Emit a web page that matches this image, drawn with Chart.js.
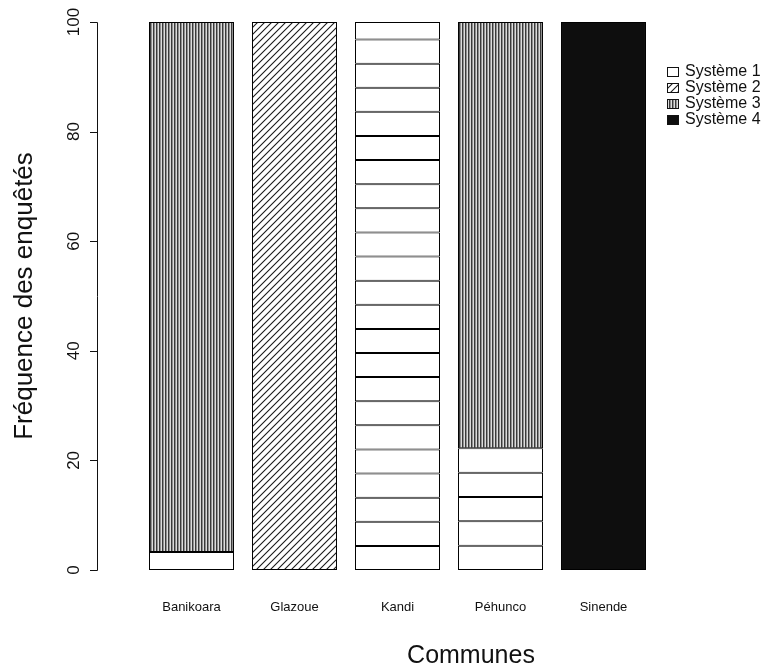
<!DOCTYPE html>
<html>
<head>
<meta charset="utf-8">
<script src="https://cdn.jsdelivr.net/npm/chart.js@4.4.0/dist/chart.umd.min.js"></script>
<style>
  body { margin: 0; background: #fff; }
</style>
</head>
<body>
<canvas id="myChart" width="768" height="671"></canvas>
<script>
// communes sur l'axe x
var communes = ['Banikoara', 'Glazoue', 'Kandi', 'Péhunco', 'Sinende'];
var systemes = ['Système 1', 'Système 2', 'Système 3', 'Système 4'];

// Système 1 : segments empilés (bas -> haut) pour chaque commune
var systeme1 = [
  [3.3],
  [],
  [4.4, 4.4, 4.4, 4.4, 4.4, 4.4, 4.4, 4.4, 4.4, 4.4, 4.4,
   4.4, 4.4, 4.4, 4.4, 4.4, 4.4, 4.4, 4.4, 4.4, 4.4, 4.4, 3.2],
  [4.44, 4.44, 4.44, 4.44, 4.44],
  []
];
var systeme2 = [0, 100, 0, 0, 0];
var systeme3 = [96.7, 0, 0, 77.8, 0];
var systeme4 = [0, 0, 0, 0, 100];
var yTicks = [0, 20, 40, 60, 80, 100];

var FONT = '"Liberation Sans", Arial, sans-serif';
var INK = '#111';

// motifs façon R (density/angle)
function motifHachure() {
  var c = document.createElement('canvas');
  c.width = 7; c.height = 7;
  var g = c.getContext('2d');
  g.strokeStyle = '#1a1a1a';
  g.lineWidth = 1.1;
  g.beginPath();
  g.moveTo(-1, 8); g.lineTo(8, -1);
  g.moveTo(-1, 1); g.lineTo(1, -1);
  g.moveTo(6, 8); g.lineTo(8, 6);
  g.stroke();
  return g.createPattern(c, 'repeat');
}
function motifVertical() {
  var c = document.createElement('canvas');
  c.width = 3; c.height = 4;
  var g = c.getContext('2d');
  g.fillStyle = '#dcdcdc'; g.fillRect(0, 0, 3, 4);
  g.fillStyle = '#3a3a3a'; g.fillRect(0, 0, 1, 4);
  g.fillStyle = '#909090'; g.fillRect(1, 0, 1, 4);
  return g.createPattern(c, 'repeat');
}
function motifNoir() {
  return '#0e0e0e';
}

var fonds = ['#ffffff', motifHachure(), motifVertical(), motifNoir()];

function nulls(arr) {
  return arr.map(function (v) { return v === 0 ? null : v; });
}

var datasets = [];
var nSeg = Math.max.apply(null, systeme1.map(function (s) { return s.length; }));
for (var k = 0; k < nSeg; k++) {
  datasets.push({
    label: systemes[0],
    data: systeme1.map(function (s) { return s[k] !== undefined ? s[k] : null; }),
    backgroundColor: fonds[0]
  });
}
[systeme2, systeme3, systeme4].forEach(function (serie, i) {
  datasets.push({ label: systemes[i + 1], data: nulls(serie), backgroundColor: fonds[i + 1] });
});
datasets.forEach(function (d) {
  d.borderColor = '#000';
  d.borderWidth = 1;
  d.borderSkipped = false;
  d.categoryPercentage = 1;
  d.barPercentage = 0.825;
});

// axe y, titres et légende dessinés à la manière de R
var axesR = {
  id: 'axesR',
  afterDraw: function (chart) {
    var ctx = chart.ctx;
    var y = chart.scales.y;
    var a = chart.chartArea;
    var xAxe = 97;
    ctx.save();
    ctx.strokeStyle = INK;
    ctx.lineWidth = 1;
    ctx.beginPath();
    ctx.moveTo(xAxe + 0.5, Math.round(y.getPixelForValue(yTicks[0])) + 0.5);
    ctx.lineTo(xAxe + 0.5, Math.round(y.getPixelForValue(yTicks[yTicks.length - 1])) + 0.5);
    yTicks.forEach(function (t) {
      var py = Math.round(y.getPixelForValue(t)) + 0.5;
      ctx.moveTo(xAxe + 0.5, py);
      ctx.lineTo(xAxe - 7, py);
    });
    ctx.stroke();

    ctx.fillStyle = '#111';
    ctx.font = '17px ' + FONT;
    ctx.textAlign = 'center';
    ctx.textBaseline = 'alphabetic';
    yTicks.forEach(function (t) {
      ctx.save();
      ctx.translate(79, y.getPixelForValue(t));
      ctx.rotate(-Math.PI / 2);
      ctx.fillText(String(t), 0, 0);
      ctx.restore();
    });

    ctx.font = '26px ' + FONT;
    ctx.save();
    ctx.translate(32, (a.top + a.bottom) / 2);
    ctx.rotate(-Math.PI / 2);
    ctx.fillText('Fréquence des enquêtés', 0, 0);
    ctx.restore();
    ctx.font = '25px ' + FONT;
    ctx.fillText('Communes', 471, 663);

    // légende
    ctx.font = '16px ' + FONT;
    ctx.textAlign = 'left';
    ctx.textBaseline = 'middle';
    systemes.forEach(function (s, i) {
      var ry = 72 + i * 16;
      ctx.fillStyle = fonds[i];
      ctx.fillRect(667, ry - 5, 12, 10);
      ctx.strokeStyle = INK;
      ctx.strokeRect(667.5, ry - 4.5, 11, 9);
      ctx.fillStyle = '#111';
      ctx.fillText(s, 685, ry);
    });
    ctx.restore();
  }
};

var ctx = document.getElementById('myChart').getContext('2d');
var myChart = new Chart(ctx, {
  type: 'bar',
  data: { labels: communes, datasets: datasets },
  options: {
    responsive: false,
    animation: false,
    layout: { padding: { top: 22, right: 113, left: 0, bottom: 0 } },
    plugins: { legend: { display: false }, tooltip: { enabled: false } },
    scales: {
      x: {
        stacked: true,
        grid: { display: false, drawTicks: false },
        border: { display: false },
        ticks: { color: '#111', font: { size: 13, family: FONT }, padding: 30, maxRotation: 0 },
        afterFit: function (s) { s.height = 101; }
      },
      y: {
        stacked: true,
        min: 0,
        max: 100,
        grid: { display: false, drawTicks: false },
        border: { display: false },
        ticks: { display: false, stepSize: 20 },
        afterFit: function (s) { s.width = 140; }
      }
    }
  },
  plugins: [axesR]
});
</script>
</body>
</html>
